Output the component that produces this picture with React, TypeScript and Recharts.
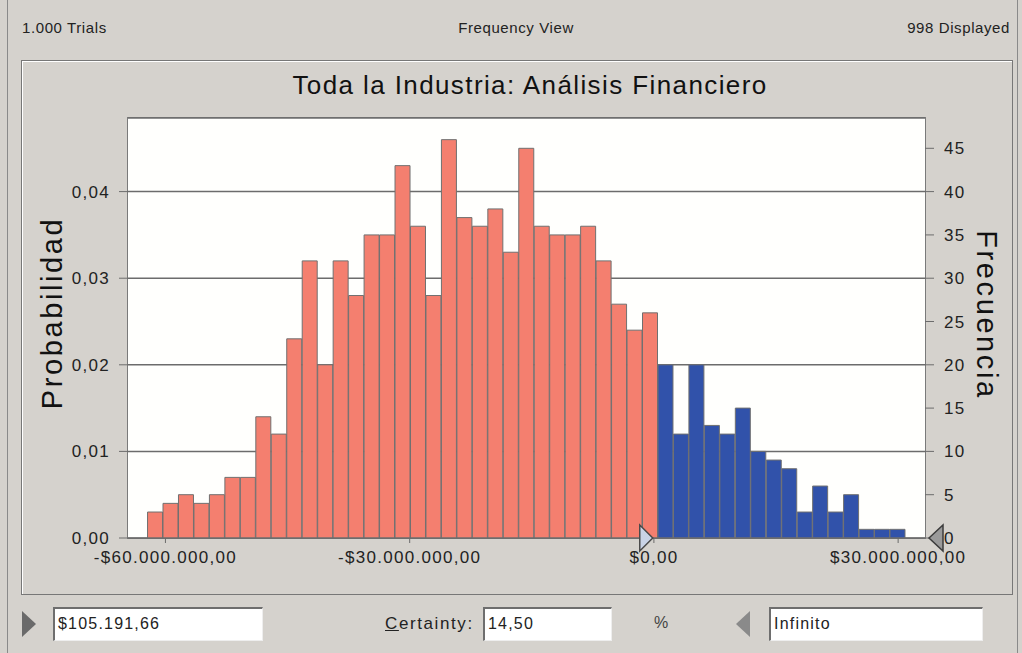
import React from 'react';
import { BarChart, Bar, XAxis, YAxis, CartesianGrid, Cell, ReferenceDot } from 'recharts';

// frequency per bin, left of the certainty marker (salmon) and right of it (blue)
const lowerFreq = [3, 4, 5, 4, 5, 7, 7, 14, 12, 23, 32, 20, 32, 28, 35, 35, 43, 36, 28, 46, 37, 36, 38, 33, 45, 36, 35, 35, 36, 32, 27, 24, 26];
const upperFreq = [20, 12, 20, 13, 12, 15, 10, 9, 8, 3, 6, 3, 5, 1, 1, 1];

const binStart = -62200000;
const binWidth = 1900000;

const probTicks = [0, 0.01, 0.02, 0.03, 0.04];
const freqTicks = [0, 5, 10, 15, 20, 25, 30, 35, 40, 45];
const valueTicks = [-60000000, -30000000, 0, 30000000];
const valueDomain = [-64600000, 33300000];

const certaintyLow = 105191.66;
const certaintyPct = '14,50';
const trials = '1.000';
const displayed = 998;

const bins = [
  ...lowerFreq.map((freq) => ({ freq, upper: false })),
  ...upperFreq.map((freq) => ({ freq, upper: true })),
].map((b, i) => ({ ...b, mid: binStart + (i + 0.5) * binWidth }));

const FONT = "'Liberation Sans', Arial, sans-serif";
const BG = '#d5d2cd';

const money = (v: number) => {
  const [i, d] = Math.abs(v).toFixed(2).split('.');
  return (v < 0 ? '-' : '') + '$' + i.replace(/\B(?=(\d{3})+(?!\d))/g, '.') + ',' + d;
};
const prob = (v: number) => v.toFixed(2).replace('.', ',');

const LowMarker = (p: any) => (
  <polygon
    points={`${p.cx - 15},${p.cy - 13} ${p.cx - 2},${p.cy} ${p.cx - 15},${p.cy + 13}`}
    fill="#c9d3e6"
    stroke="#4a4a4a"
    strokeWidth={1.5}
  />
);
const HighMarker = (p: any) => (
  <polygon
    points={`${p.cx + 4},${p.cy} ${p.cx + 18},${p.cy - 13} ${p.cx + 18},${p.cy + 13}`}
    fill="#9a9a9a"
    stroke="#3c3c3c"
    strokeWidth={1.5}
  />
);

const box = (left: number, width: number): React.CSSProperties => ({
  position: 'absolute',
  left,
  top: 607,
  width,
  height: 34,
  boxSizing: 'border-box',
  background: '#fff',
  borderTop: '2px solid #6e6e6e',
  borderLeft: '2px solid #6e6e6e',
  borderBottom: '1px solid #eee',
  borderRight: '1px solid #eee',
  fontSize: 16,
  lineHeight: '30px',
  paddingLeft: 3,
  color: '#222',
  letterSpacing: '1.2px',
});

const tri = (left: number, dir: 'right' | 'left'): React.CSSProperties => ({
  position: 'absolute',
  left,
  top: 611,
  width: 0,
  height: 0,
  borderTop: '13px solid transparent',
  borderBottom: '13px solid transparent',
  ...(dir === 'right' ? { borderLeft: '14px solid #6a6a6a' } : { borderRight: '14px solid #8a8a8a' }),
});

const App: React.FC = () => {
  return (
    <div style={{ position: 'absolute', left: 0, top: 0, width: 1022, height: 653, background: BG, fontFamily: FONT, overflow: 'hidden' }}>
      <div style={{ position: 'absolute', left: 7, top: 0, width: 1, height: 653, background: '#8a8a8a' }} />
      <div style={{ position: 'absolute', left: 1017, top: 0, width: 1, height: 653, background: '#8a8a8a' }} />

      <div style={{ position: 'absolute', left: 22, top: 19, fontSize: 15, letterSpacing: '0.6px', color: '#222' }}>{trials} Trials</div>
      <div style={{ position: 'absolute', left: 0, width: 1032, top: 19, textAlign: 'center', fontSize: 15, letterSpacing: '0.6px', color: '#222' }}>Frequency View</div>
      <div style={{ position: 'absolute', right: 12, top: 19, fontSize: 15, letterSpacing: '0.6px', color: '#222' }}>{displayed} Displayed</div>

      <div style={{ position: 'absolute', left: 21, top: 60, width: 992, height: 535, boxSizing: 'border-box', border: '1px solid #777', boxShadow: 'inset 1px 1px 0 #fff' }} />

      <div style={{ position: 'absolute', left: 0, width: 1060, top: 70, textAlign: 'center', fontSize: 26, letterSpacing: '1.4px', color: '#111' }}>
        Toda la Industria: Análisis Financiero
      </div>

      <div style={{ position: 'absolute', left: 127, top: 117, width: 799, height: 422, boxSizing: 'border-box', border: '1px solid #7a7a7a', background: '#fffffd' }} />

      <div style={{ position: 'absolute', left: 52, top: 313, transform: 'translate(-50%, -50%) rotate(-90deg)', fontSize: 29, letterSpacing: '2.6px', color: '#111', whiteSpace: 'nowrap' }}>
        Probabilidad
      </div>
      <div style={{ position: 'absolute', left: 986, top: 315, transform: 'translate(-50%, -50%) rotate(90deg)', fontSize: 29, letterSpacing: '2.6px', color: '#111', whiteSpace: 'nowrap' }}>
        Frecuencia
      </div>

      <div style={{ position: 'absolute', left: 0, top: 0 }}>
        <BarChart
          width={1022}
          height={653}
          data={bins}
          barCategoryGap={0}
          margin={{ top: 118, right: 37, bottom: 85, left: 68 }}
          style={{ fontFamily: FONT, letterSpacing: '1.3px' }}
        >
          <CartesianGrid yAxisId="prob" vertical={false} stroke="#6c6c6c" strokeWidth={1.5} />
          <XAxis
            dataKey="mid"
            type="number"
            domain={valueDomain}
            ticks={valueTicks}
            allowDataOverflow
            height={30}
            tickFormatter={money}
            tickSize={5}
            tickMargin={8}
            stroke="#6c6c6c"
            tick={{ fill: '#222', fontSize: 17 }}
          />
          <YAxis
            yAxisId="prob"
            orientation="left"
            width={60}
            domain={[0, 0.0485]}
            ticks={probTicks}
            allowDataOverflow
            tickFormatter={prob}
            tickSize={9}
            tickMargin={9}
            axisLine={false}
            stroke="#6c6c6c"
            tick={{ fill: '#222', fontSize: 17 }}
          />
          <YAxis
            yAxisId="freq"
            orientation="right"
            width={60}
            domain={[0, 48.5]}
            ticks={freqTicks}
            allowDataOverflow
            tickSize={9}
            tickMargin={10}
            axisLine={false}
            stroke="#6c6c6c"
            tick={{ fill: '#222', fontSize: 17 }}
          />
          <Bar yAxisId="freq" dataKey="freq" stroke="#707070" strokeWidth={1} isAnimationActive={false}>
            {bins.map((b, i) => (
              <Cell key={i} fill={b.upper ? '#3152aa' : '#f47f6f'} />
            ))}
          </Bar>
          <ReferenceDot yAxisId="freq" x={certaintyLow} y={0} r={0} ifOverflow="visible" shape={LowMarker} />
          <ReferenceDot yAxisId="freq" x={valueDomain[1]} y={0} r={0} ifOverflow="visible" shape={HighMarker} />
        </BarChart>
      </div>

      <div style={tri(22, 'right')} />
      <div style={box(53, 210)}>{money(certaintyLow)}</div>
      <div style={{ position: 'absolute', left: 385, top: 614, fontSize: 17, color: '#222', letterSpacing: '1.6px' }}>
        <span style={{ textDecoration: 'underline' }}>C</span>ertainty:
      </div>
      <div style={box(483, 129)}>{certaintyPct}</div>
      <div style={{ position: 'absolute', left: 654, top: 614, fontSize: 16, color: '#444' }}>%</div>
      <div style={tri(736, 'left')} />
      <div style={box(769, 214)}>Infinito</div>
    </div>
  );
};

export default App;
